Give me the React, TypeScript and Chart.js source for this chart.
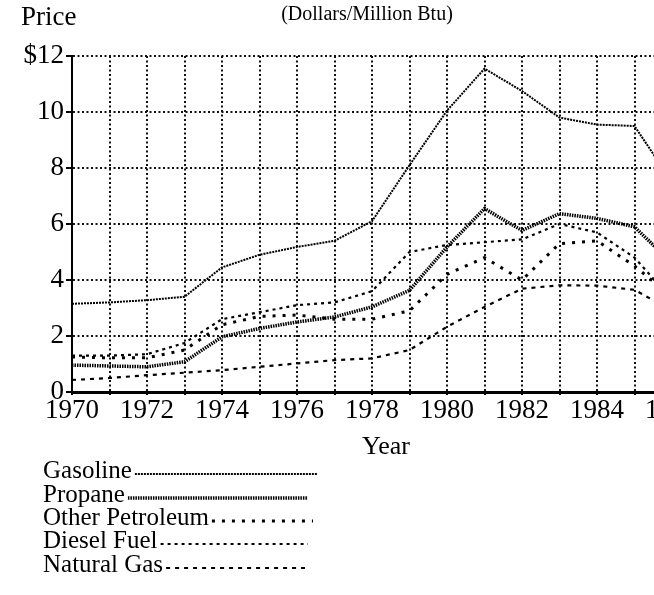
import { useEffect, useRef } from "react";
import { Chart, registerables } from "chart.js";

Chart.register(...registerables);

const years = [1970, 1971, 1972, 1973, 1974, 1975, 1976, 1977, 1978, 1979, 1980, 1981, 1982, 1983, 1984, 1985, 1986];
const gasoline = [3.15, 3.2, 3.28, 3.4, 4.45, 4.9, 5.18, 5.4, 6.1, 8.1, 10.05, 11.55, 10.75, 9.8, 9.55, 9.5, 7.5];
const propane = [0.96, 0.93, 0.9, 1.08, 1.97, 2.27, 2.5, 2.68, 3.04, 3.63, 5.18, 6.55, 5.77, 6.37, 6.2, 5.9, 4.6];
const otherPetroleum = [1.25, 1.22, 1.22, 1.5, 2.4, 2.7, 2.75, 2.6, 2.6, 2.9, 4.2, 4.8, 4.0, 5.3, 5.4, 4.5, 3.4];
const diesel = [1.3, 1.3, 1.35, 1.75, 2.6, 2.85, 3.1, 3.2, 3.6, 5.0, 5.25, 5.35, 5.45, 6.0, 5.7, 4.8, 3.3];
const naturalGas = [0.43, 0.5, 0.6, 0.69, 0.78, 0.9, 1.02, 1.14, 1.2, 1.5, 2.33, 3.04, 3.69, 3.81, 3.8, 3.65, 2.9];
const seriesNames = ["Gasoline", "Propane", "Other Petroleum", "Diesel Fuel", "Natural Gas"];

const FONT = "'Liberation Serif', 'Times New Roman', serif";
const INK = "#000";

export default function App() {
  const ref = useRef<HTMLCanvasElement>(null);

  useEffect(() => {
    if (!ref.current) return;
    const styles = [
      { width: 2, dash: [2, 1] },
      { width: 3.5, dash: [1.5, 1] },
      { width: 3, dash: [3, 7] },
      { width: 2.2, dash: [3, 4] },
      { width: 2.2, dash: [4, 5] },
    ];
    const series = [gasoline, propane, otherPetroleum, diesel, naturalGas];
    const datasets = series.map((s, i) => ({
      label: seriesNames[i],
      data: years.map((yr, j) => ({ x: yr, y: s[j] })),
      borderColor: INK,
      backgroundColor: INK,
      borderWidth: styles[i].width,
      borderDash: styles[i].dash,
      pointRadius: 0,
      fill: false,
      tension: 0,
    }));

    const textPlugin = {
      id: "texts",
      afterDraw(chart: any) {
        const ctx = chart.ctx;
        ctx.save();
        ctx.fillStyle = INK;
        ctx.textBaseline = "middle";
        ctx.textAlign = "left";
        ctx.font = `27px ${FONT}`;
        ctx.fillText("Price", 21, 18);
        ctx.font = `20px ${FONT}`;
        ctx.textAlign = "center";
        ctx.fillText("(Dollars/Million Btu)", 367, 15);
        ctx.font = `26px ${FONT}`;
        ctx.fillText("Year", 386, 447);
        ctx.textAlign = "left";
        ctx.font = `25px ${FONT}`;
        const rows = [471, 495, 518, 541, 565];
        const ends = [317, 308, 313, 308, 305];
        chart.data.datasets.forEach((ds: any, i: number) => {
          const y = rows[i];
          ctx.fillStyle = INK;
          ctx.fillText(ds.label, 43, y);
          const w = ctx.measureText(ds.label).width;
          ctx.save();
          ctx.strokeStyle = INK;
          ctx.lineWidth = ds.borderWidth;
          ctx.setLineDash(ds.borderDash);
          ctx.beginPath();
          ctx.moveTo(43 + w + 3, y + 3);
          ctx.lineTo(ends[i], y + 3);
          ctx.stroke();
          ctx.restore();
        });
        ctx.restore();
      },
    };

    const chart = new Chart(ref.current, {
      type: "line",
      data: { datasets },
      options: {
        animation: false,
        responsive: false,
        devicePixelRatio: 1,
        layout: { padding: { left: 16, right: 38, top: 56, bottom: 163 } },
        plugins: { legend: { display: false }, tooltip: { enabled: false }, title: { display: false } },
        scales: {
          x: {
            type: "linear",
            min: 1970,
            max: 1986,
            afterFit: (s: any) => { s.height = 40; },
            ticks: {
              stepSize: 1,
              autoSkip: false,
              maxRotation: 0,
              minRotation: 0,
              padding: 0,
              color: INK,
              font: { family: FONT, size: 27 },
              callback: (v: any) => (Number(v) % 2 === 0 ? String(v) : ""),
            },
            grid: { color: "#111", lineWidth: 2, tickLength: 3, tickColor: INK },
            border: { display: true, color: INK, width: 3, dash: [2, 2.5] },
          },
          y: {
            min: 0,
            max: 12,
            afterFit: (s: any) => { s.width = 56; },
            ticks: {
              stepSize: 2,
              padding: 2,
              color: INK,
              font: { family: FONT, size: 27 },
              callback: (v: any) => (Number(v) === 12 ? "$12" : String(v)),
            },
            grid: { color: "#111", lineWidth: 2, tickLength: 6, tickColor: INK },
            border: { display: true, color: INK, width: 2, dash: [2, 2.5] },
          },
        },
      },
      plugins: [textPlugin],
    } as any);

    return () => chart.destroy();
  }, []);

  return (
    <div style={{ position: "absolute", left: 0, top: 0, width: 654, height: 595, overflow: "hidden", background: "#fff" }}>
      <canvas ref={ref} width={710} height={595} style={{ display: "block", width: 710, height: 595 }} />
    </div>
  );
}
